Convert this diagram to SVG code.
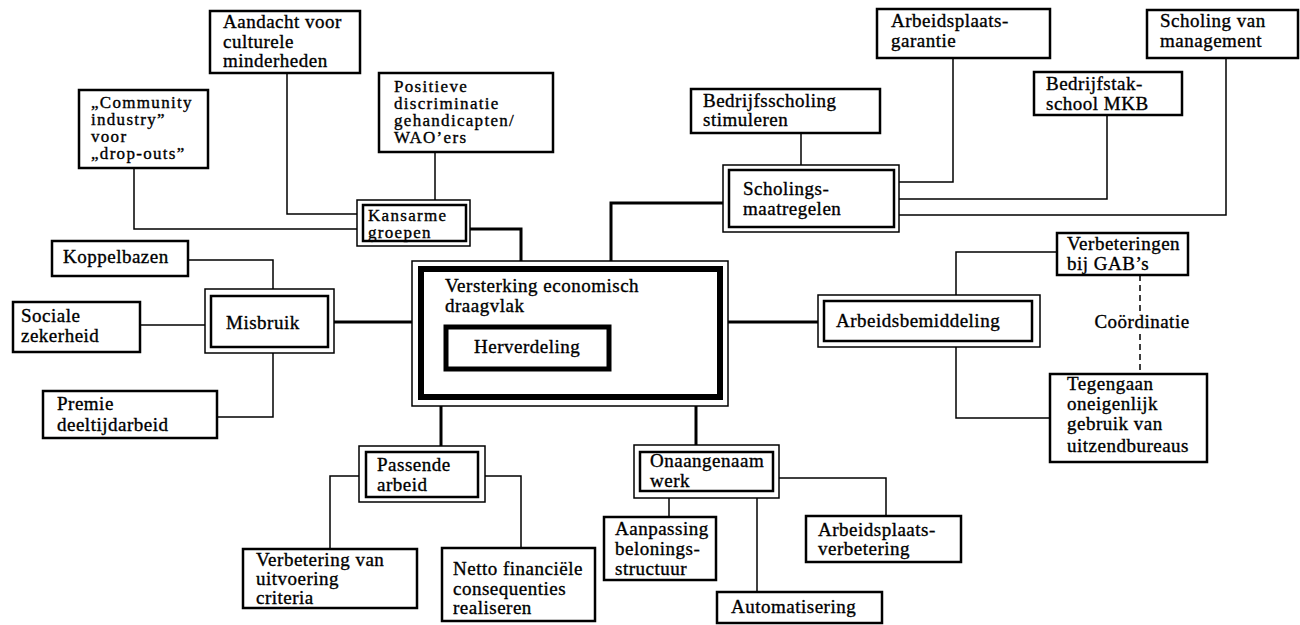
<svg xmlns="http://www.w3.org/2000/svg" width="1300" height="625" viewBox="0 0 1300 625">
<style>
text{font-family:"Liberation Serif","Times New Roman",serif;font-size:19px;letter-spacing:0.5px;fill:#000;stroke:#000;stroke-width:0.35}
.sm{font-size:17px;letter-spacing:1.3px}
.box{fill:#fff;stroke:#000;stroke-width:2.5}
.outer{fill:#fff;stroke:#000;stroke-width:1.5}
.inner{fill:none;stroke:#000;stroke-width:2.5}
.ln{fill:none;stroke:#000;stroke-width:1.5}
.tk{fill:none;stroke:#000;stroke-width:3}
.dash{fill:none;stroke:#000;stroke-width:1.5;stroke-dasharray:6,4}
</style>
<rect width="1300" height="625" fill="#fff"/>
<g id="connectors">
<path class="ln" d="M287,73 V214 H357"/>
<path class="ln" d="M134,168 V229 H357"/>
<path class="ln" d="M435,152 V200"/>
<path class="ln" d="M188,260 H273 V289"/>
<path class="ln" d="M140,325 H205"/>
<path class="ln" d="M273,353 V417 H217"/>
<path class="ln" d="M801,133 V165"/>
<path class="ln" d="M953,58 V182 H899"/>
<path class="ln" d="M1107,115 V199 H899"/>
<path class="ln" d="M1226,58 V215 H899"/>
<path class="ln" d="M956,295 V252 H1057"/>
<path class="ln" d="M956,347 V418 H1050"/>
<path class="ln" d="M359,476 H330 V549"/>
<path class="ln" d="M485,476 H521 V548"/>
<path class="ln" d="M669,498 V517"/>
<path class="ln" d="M757,498 V592"/>
<path class="ln" d="M779,478 H886 V516"/>
<path class="dash" d="M1140,275 V313 M1140,334 V374"/>
<path class="tk" d="M470,229 H521 V261"/>
<path class="tk" d="M611,261 V203 H723"/>
<path class="tk" d="M334,322 H412"/>
<path class="tk" d="M728,322 H818"/>
<path class="tk" d="M441,406 V446"/>
<path class="tk" d="M696,406 V445"/>
<text x="1142" y="328" text-anchor="middle">Coördinatie</text>
</g>
<g id="center">
<rect class="outer" x="412" y="261" width="316" height="145"/>
<rect fill="none" stroke="#000" stroke-width="6" x="421" y="269" width="299" height="128"/>
<text x="445" y="292">Versterking economisch</text>
<text x="445" y="312">draagvlak</text>
</g>
<g id="herverdeling">
<rect fill="#fff" stroke="#000" stroke-width="5" x="446" y="327" width="163" height="42"/>
<text x="474" y="353">Herverdeling</text>
</g>
<g id="aandacht">
<rect class="box" x="210" y="11" width="150" height="62"/>
<text x="223" y="28">Aandacht voor</text>
<text x="223" y="48">culturele</text>
<text x="223" y="67">minderheden</text>
</g>
<g id="community">
<rect class="box" x="79" y="90" width="129" height="78"/>
<text class="sm" x="91" y="108">„Community</text>
<text class="sm" x="91" y="125">industry”</text>
<text class="sm" x="91" y="142">voor</text>
<text class="sm" x="91" y="159">„drop-outs”</text>
</g>
<g id="positieve">
<rect class="box" x="379" y="73" width="174" height="79"/>
<text class="sm" x="394" y="92">Positieve</text>
<text class="sm" x="394" y="109">discriminatie</text>
<text class="sm" x="394" y="126">gehandicapten/</text>
<text class="sm" x="394" y="143">WAO’ers</text>
</g>
<g id="kansarme">
<rect class="outer" x="357" y="200" width="113" height="46"/>
<rect class="inner" x="363" y="205" width="103" height="36"/>
<text class="sm" x="368" y="221">Kansarme</text>
<text class="sm" x="368" y="238">groepen</text>
</g>
<g id="misbruik">
<rect class="outer" x="205" y="289" width="129" height="64"/>
<rect class="inner" x="211" y="296" width="117" height="51"/>
<text x="226" y="329">Misbruik</text>
</g>
<g id="koppelbazen">
<rect class="box" x="52" y="241" width="136" height="35"/>
<text x="63" y="263">Koppelbazen</text>
</g>
<g id="sociale">
<rect class="box" x="13" y="302" width="127" height="50"/>
<text x="21" y="322">Sociale</text>
<text x="21" y="342">zekerheid</text>
</g>
<g id="premie">
<rect class="box" x="43" y="391" width="174" height="47"/>
<text x="57" y="410">Premie</text>
<text x="57" y="431">deeltijdarbeid</text>
</g>
<g id="bedrijfsscholing">
<rect class="box" x="691" y="89" width="189" height="44"/>
<text x="703" y="107">Bedrijfsscholing</text>
<text x="703" y="126">stimuleren</text>
</g>
<g id="scholingsmaatregelen">
<rect class="outer" x="723" y="165" width="176" height="67"/>
<rect class="inner" x="729" y="170" width="165" height="57"/>
<text x="743" y="195">Scholings-</text>
<text x="743" y="215">maatregelen</text>
</g>
<g id="garantie">
<rect class="box" x="877" y="9" width="173" height="49"/>
<text x="891" y="27">Arbeidsplaats-</text>
<text x="891" y="47">garantie</text>
</g>
<g id="bedrijfstak">
<rect class="box" x="1034" y="72" width="148" height="43"/>
<text x="1046" y="90">Bedrijfstak-</text>
<text x="1046" y="110">school MKB</text>
</g>
<g id="management">
<rect class="box" x="1147" y="10" width="151" height="48"/>
<text x="1160" y="27">Scholing van</text>
<text x="1160" y="47">management</text>
</g>
<g id="arbeidsbemiddeling">
<rect class="outer" x="818" y="295" width="222" height="52"/>
<rect class="inner" x="824" y="301" width="208" height="40"/>
<text x="836" y="327">Arbeidsbemiddeling</text>
</g>
<g id="verbeteringen">
<rect class="box" x="1057" y="233" width="131" height="42"/>
<text x="1067" y="250">Verbeteringen</text>
<text x="1067" y="270">bij GAB’s</text>
</g>
<g id="tegengaan">
<rect class="box" x="1050" y="374" width="157" height="88"/>
<text x="1067" y="390">Tegengaan</text>
<text x="1067" y="410">oneigenlijk</text>
<text x="1067" y="430">gebruik van</text>
<text x="1067" y="452">uitzendbureaus</text>
</g>
<g id="passende">
<rect class="outer" x="359" y="446" width="126" height="56"/>
<rect class="inner" x="366" y="452" width="112" height="45"/>
<text x="377" y="471">Passende</text>
<text x="377" y="491">arbeid</text>
</g>
<g id="uitvoering">
<rect class="box" x="243" y="549" width="174" height="59"/>
<text x="256" y="566">Verbetering van</text>
<text x="256" y="585">uitvoering</text>
<text x="256" y="604">criteria</text>
</g>
<g id="netto">
<rect class="box" x="442" y="548" width="153" height="73"/>
<text x="453" y="575">Netto financiële</text>
<text x="453" y="595">consequenties</text>
<text x="453" y="614">realiseren</text>
</g>
<g id="onaangenaam">
<rect class="outer" x="634" y="445" width="145" height="53"/>
<rect class="inner" x="640" y="452" width="133" height="39"/>
<text x="650" y="467">Onaangenaam</text>
<text x="650" y="487">werk</text>
</g>
<g id="aanpassing">
<rect class="box" x="604" y="517" width="112" height="63"/>
<text x="615" y="535">Aanpassing</text>
<text x="615" y="555">belonings-</text>
<text x="615" y="575">structuur</text>
</g>
<g id="automatisering">
<rect class="box" x="717" y="592" width="165" height="31"/>
<text x="731" y="613">Automatisering</text>
</g>
<g id="verbetering">
<rect class="box" x="806" y="516" width="155" height="46"/>
<text x="818" y="536">Arbeidsplaats-</text>
<text x="818" y="555">verbetering</text>
</g>
</svg>
